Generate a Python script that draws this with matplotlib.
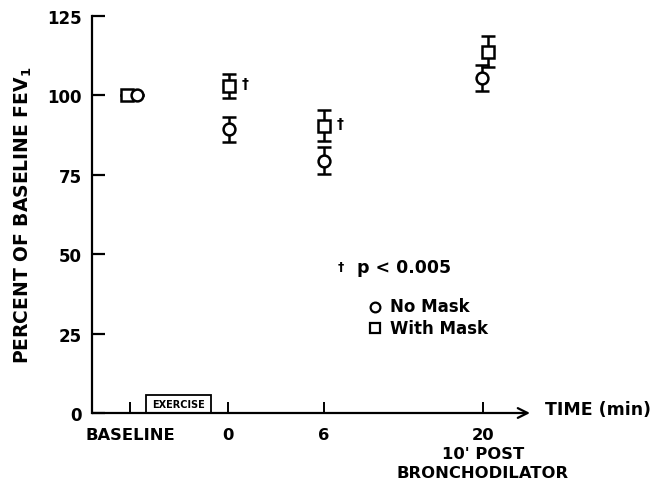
import matplotlib
matplotlib.use("Agg")
import matplotlib.pyplot as plt
from matplotlib.patches import Rectangle

# ---- data ----
categories = ["BASELINE", "0", "6", "20\n10' POST\nBRONCHODILATOR"]
no_mask_mean = [100, 89.3, 79.5, 105.5]
no_mask_err = [0, 4.0, 4.4, 4.1]
with_mask_mean = [100, 103, 90.5, 113.8]
with_mask_err = [0, 3.8, 4.8, 5.0]
significant = [False, True, True, False]
y_ticks = [0, 25, 50, 75, 100, 125]

# ---- layout (category positions along the time axis, arbitrary units) ----
cat_pos = [38, 136, 232, 391]
nm_off = [7, 1, 0, -1]
wm_off = [-3, 1, 0, 5]
x_end = 438

font = "DejaVu Sans"
plt.rcParams['font.family'] = [font]

fig = plt.figure(figsize=(6.58, 4.85), dpi=100)
ax = fig.add_axes([92/658, (485-414)/485, x_end/658, 397/485])
ax.set_xlim(0, x_end)
ax.set_ylim(0, 125)

for s in ["top", "right", "bottom"]:
    ax.spines[s].set_visible(False)
ax.spines["left"].set_linewidth(1.6)

ax.annotate("", xy=(x_end, 0), xytext=(0, 0), xycoords="data",
            arrowprops=dict(arrowstyle="->,head_length=0.7,head_width=0.35", lw=1.6,
                            color="black", shrinkA=0, shrinkB=0),
            annotation_clip=False)

ax.set_yticks(y_ticks)
ax.set_yticklabels([str(v) for v in y_ticks], fontsize=12, fontweight="bold")
ax.tick_params(axis="y", direction="in", length=9, width=1.6, pad=7.5)
ax.set_xticks(cat_pos)
ax.set_xticklabels(categories, fontsize=11.8, fontweight="bold", linespacing=1.35)
ax.tick_params(axis="x", direction="in", length=8, width=1.4, pad=10)

ax.set_ylabel("PERCENT OF BASELINE FEV$_\\mathbf{1}$", fontsize=13.5, fontweight="bold",
              labelpad=9)

x_nm = [p + o for p, o in zip(cat_pos, nm_off)]
x_wm = [p + o for p, o in zip(cat_pos, wm_off)]

ekw = dict(ecolor="black", elinewidth=1.8, capsize=5, capthick=1.8, linestyle="none")
ax.errorbar(x_wm, with_mask_mean, yerr=with_mask_err, marker="s", ms=8, mfc="white",
            mec="black", mew=1.8, zorder=3, clip_on=False, **ekw)
ax.errorbar(x_nm, no_mask_mean, yerr=no_mask_err, marker="o", ms=8.5, mfc="white",
            mec="black", mew=1.8, zorder=3, clip_on=False, **ekw)

for x, y, sig in zip(x_wm, with_mask_mean, significant):
    if sig:
        ax.annotate("\u2020", xy=(x, y), xytext=(9, 2), textcoords="offset points",
                    fontsize=10, fontweight="bold", ha="left", va="center")

# Exercise box
ax.add_patch(Rectangle((54, 0), 65, 5.7, fill=False, lw=1.3, ec="black", clip_on=False))
ax.text(86.5, 2.8, "EXERCISE", fontsize=7, fontweight="bold", ha="center", va="center")

# Axis name
fig.text(545/658, 1 - 410/485, "TIME (min)", fontsize=12.5, fontweight="bold",
         ha="left", va="center")

# significance note and legend
fig.text(338/658, 1 - 267/485, "\u2020", fontsize=9, fontweight="bold", ha="left",
         va="center")
fig.text(357/658, 1 - 268/485, "p < 0.005", fontsize=12.5, fontweight="bold", ha="left",
         va="center")
fig.lines.append(plt.Line2D([375/658], [1 - 308/485], marker="o", ms=7, mfc="white",
                            mec="black", mew=1.6, transform=fig.transFigure))
fig.lines.append(plt.Line2D([375/658], [1 - 329/485], marker="s", ms=7, mfc="white",
                            mec="black", mew=1.6, transform=fig.transFigure))
fig.text(390/658, 1 - 307/485, "No Mask", fontsize=12, fontweight="bold", ha="left",
         va="center")
fig.text(390/658, 1 - 329/485, "With Mask", fontsize=12, fontweight="bold", ha="left",
         va="center")

fig.savefig("out.png", dpi=100)
